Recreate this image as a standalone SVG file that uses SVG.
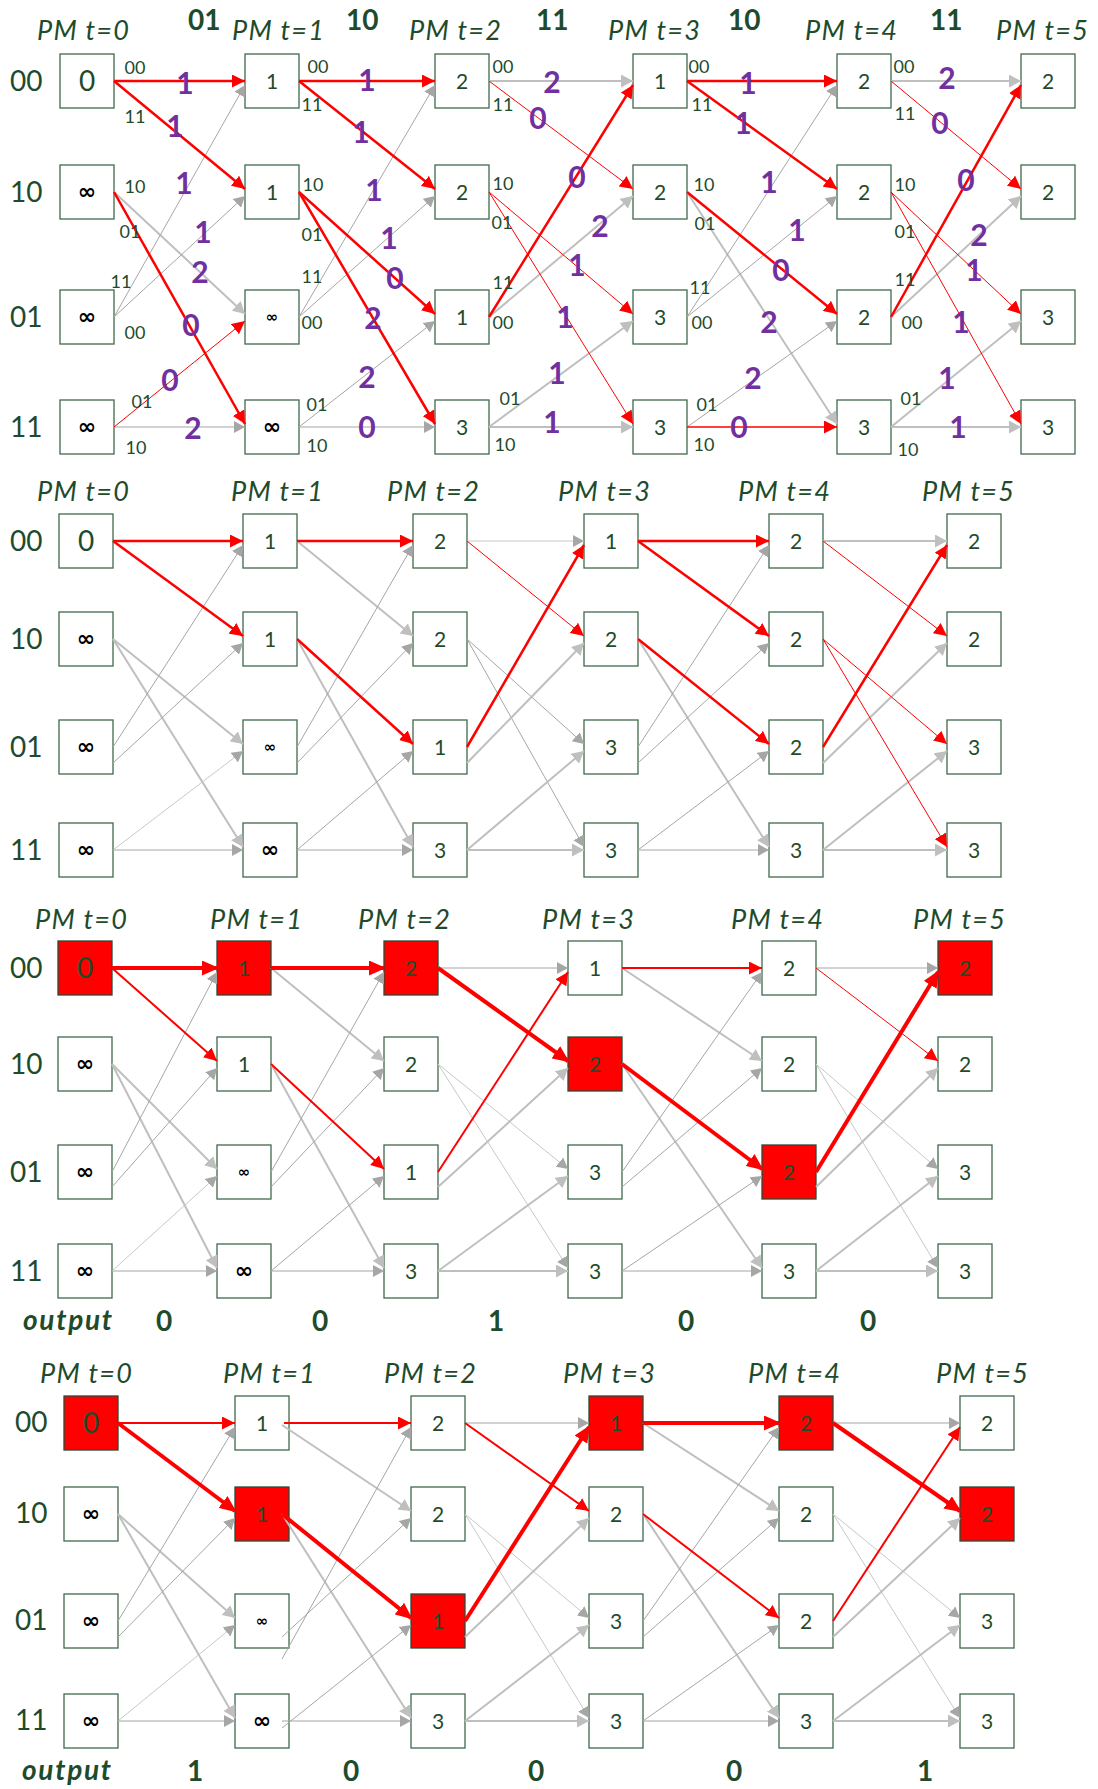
<svg xmlns="http://www.w3.org/2000/svg" width="1098" height="1789" viewBox="0 0 1098 1789">
<style>
  .box{fill:#ffffff;stroke:#3f6a4c;stroke-width:1.3}
  .hit{fill:#ff0000;stroke:#2b4a33;stroke-width:1.3}
  text{font-family:Lato,"Liberation Sans","DejaVu Sans",sans-serif;fill:#1e4b2b}
  .pm{font-style:italic;font-size:27px}
  .hd{font-weight:bold;font-size:28px}
  .st{font-size:28px}
  .v{font-size:21px;text-anchor:middle}
  .v0{font-size:28px;text-anchor:middle}
  .inf{font-family:"DejaVu Sans",sans-serif;font-weight:bold;font-size:22px;fill:#000;text-anchor:middle}
  .infs{font-family:"DejaVu Sans",sans-serif;font-weight:bold;font-size:15px;fill:#000;text-anchor:middle}
  .lb{font-size:18px;text-anchor:middle}
  .pu{font-weight:bold;font-size:30px;fill:#7030a0;text-anchor:middle}
  .out{font-weight:bold;font-style:italic;font-size:28px}
  .od{font-weight:bold;font-size:28px;text-anchor:middle}
  line{fill:none}
  .g1{stroke:#a6a6a6;stroke-width:1;marker-end:url(#mg)}
  .g2{stroke:#bfbfbf;stroke-width:2;marker-end:url(#ml)}
  .r1{stroke:#ff0000;stroke-width:1;marker-end:url(#mr)}
  .r2{stroke:#ff0000;stroke-width:2;marker-end:url(#mr)}
  .r3{stroke:#ff0000;stroke-width:2.5;marker-end:url(#mr)}
  .rb{stroke:#ff0000;stroke-width:4;marker-end:url(#mb)}
</style>
<defs>
  <marker id="mr" markerUnits="userSpaceOnUse" markerWidth="13" markerHeight="13" viewBox="0 0 13 13" refX="13" refY="6.5" orient="auto"><path d="M0,0 L13,6.5 L0,13 z" fill="#ff0000"/></marker>
  <marker id="mb" markerUnits="userSpaceOnUse" markerWidth="17" markerHeight="15" viewBox="0 0 17 15" refX="15" refY="7.5" orient="auto"><path d="M0,0 L17,7.5 L0,15 z" fill="#ff0000"/></marker>
  <marker id="mg" markerUnits="userSpaceOnUse" markerWidth="11" markerHeight="12" viewBox="0 0 11 12" refX="11" refY="6" orient="auto"><path d="M0,0 L11,6 L0,12 z" fill="#a6a6a6"/></marker>
  <marker id="ml" markerUnits="userSpaceOnUse" markerWidth="12" markerHeight="13" viewBox="0 0 12 13" refX="12" refY="6.5" orient="auto"><path d="M0,0 L12,6.5 L0,13 z" fill="#bfbfbf"/></marker>
</defs>
<rect width="1098" height="1789" fill="#ffffff"/>

<!-- ===== Trellis 1: branch metrics ===== -->
<g id="labels-1">
  <text class="pm" x="37" y="40" textLength="92">PM t=0</text>
  <text class="pm" x="232" y="40" textLength="92">PM t=1</text>
  <text class="pm" x="409" y="40" textLength="92">PM t=2</text>
  <text class="pm" x="608" y="40" textLength="92">PM t=3</text>
  <text class="pm" x="805" y="40" textLength="92">PM t=4</text>
  <text class="pm" x="996" y="40" textLength="92">PM t=5</text>
  <text class="hd" x="188" y="30">01</text>
  <text class="hd" x="346" y="30">10</text>
  <text class="hd" x="536" y="30">11</text>
  <text class="hd" x="728" y="30">10</text>
  <text class="hd" x="930" y="30">11</text>
  <text class="st" x="10" y="91">00</text>
  <text class="st" x="10" y="202">10</text>
  <text class="st" x="10" y="327">01</text>
  <text class="st" x="10" y="437">11</text>
</g>
<g id="nodes-1">
  <g id="a-t0-00"><rect class="box" x="60" y="54" width="54" height="54"/><text class="v0" x="87" y="91">0</text></g>
  <g id="a-t0-10"><rect class="box" x="60" y="165" width="54" height="54"/><text class="inf" x="87" y="199">∞</text></g>
  <g id="a-t0-01"><rect class="box" x="60" y="290" width="54" height="54"/><text class="inf" x="87" y="324">∞</text></g>
  <g id="a-t0-11"><rect class="box" x="60" y="400" width="54" height="54"/><text class="inf" x="87" y="434">∞</text></g>
  <g id="a-t1-00"><rect class="box" x="245" y="54" width="54" height="54"/><text class="v" x="272" y="88.5">1</text></g>
  <g id="a-t1-10"><rect class="box" x="245" y="165" width="54" height="54"/><text class="v" x="272" y="199.5">1</text></g>
  <g id="a-t1-01"><rect class="box" x="245" y="290" width="54" height="54"/><text class="infs" x="272" y="322">∞</text></g>
  <g id="a-t1-11"><rect class="box" x="245" y="400" width="54" height="54"/><text class="inf" x="272" y="434">∞</text></g>
  <g id="a-t2-00"><rect class="box" x="435" y="54" width="54" height="54"/><text class="v" x="462" y="88.5">2</text></g>
  <g id="a-t2-10"><rect class="box" x="435" y="165" width="54" height="54"/><text class="v" x="462" y="199.5">2</text></g>
  <g id="a-t2-01"><rect class="box" x="435" y="290" width="54" height="54"/><text class="v" x="462" y="324.5">1</text></g>
  <g id="a-t2-11"><rect class="box" x="435" y="400" width="54" height="54"/><text class="v" x="462" y="434.5">3</text></g>
  <g id="a-t3-00"><rect class="box" x="633" y="54" width="54" height="54"/><text class="v" x="660" y="88.5">1</text></g>
  <g id="a-t3-10"><rect class="box" x="633" y="165" width="54" height="54"/><text class="v" x="660" y="199.5">2</text></g>
  <g id="a-t3-01"><rect class="box" x="633" y="290" width="54" height="54"/><text class="v" x="660" y="324.5">3</text></g>
  <g id="a-t3-11"><rect class="box" x="633" y="400" width="54" height="54"/><text class="v" x="660" y="434.5">3</text></g>
  <g id="a-t4-00"><rect class="box" x="837" y="54" width="54" height="54"/><text class="v" x="864" y="88.5">2</text></g>
  <g id="a-t4-10"><rect class="box" x="837" y="165" width="54" height="54"/><text class="v" x="864" y="199.5">2</text></g>
  <g id="a-t4-01"><rect class="box" x="837" y="290" width="54" height="54"/><text class="v" x="864" y="324.5">2</text></g>
  <g id="a-t4-11"><rect class="box" x="837" y="400" width="54" height="54"/><text class="v" x="864" y="434.5">3</text></g>
  <g id="a-t5-00"><rect class="box" x="1021" y="54" width="54" height="54"/><text class="v" x="1048" y="88.5">2</text></g>
  <g id="a-t5-10"><rect class="box" x="1021" y="165" width="54" height="54"/><text class="v" x="1048" y="199.5">2</text></g>
  <g id="a-t5-01"><rect class="box" x="1021" y="290" width="54" height="54"/><text class="v" x="1048" y="324.5">3</text></g>
  <g id="a-t5-11"><rect class="box" x="1021" y="400" width="54" height="54"/><text class="v" x="1048" y="434.5">3</text></g>
</g>
<g id="connectors-1">
  <line class="g2" x1="114" y1="192" x2="245" y2="314"/>
  <line class="g1" x1="114" y1="317" x2="245" y2="85"/>
  <line class="g1" x1="114" y1="317" x2="245" y2="196"/>
  <line class="g1" x1="114" y1="427" x2="245" y2="427"/>
  <line class="g1" x1="299" y1="317" x2="435" y2="85"/>
  <line class="g1" x1="299" y1="317" x2="435" y2="196"/>
  <line class="g1" x1="299" y1="427" x2="435" y2="321"/>
  <line class="g1" x1="299" y1="427" x2="435" y2="427"/>
  <line class="g2" x1="489" y1="81" x2="633" y2="81"/>
  <line class="g2" x1="489" y1="317" x2="633" y2="196"/>
  <line class="g2" x1="489" y1="427" x2="633" y2="321"/>
  <line class="g2" x1="489" y1="427" x2="633" y2="427"/>
  <line class="g2" x1="687" y1="192" x2="837" y2="424"/>
  <line class="g1" x1="687" y1="317" x2="837" y2="85"/>
  <line class="g1" x1="687" y1="317" x2="837" y2="196"/>
  <line class="g1" x1="687" y1="427" x2="837" y2="321"/>
  <line class="g2" x1="891" y1="81" x2="1021" y2="81"/>
  <line class="g2" x1="891" y1="317" x2="1021" y2="196"/>
  <line class="g2" x1="891" y1="427" x2="1021" y2="321"/>
  <line class="g2" x1="891" y1="427" x2="1021" y2="427"/>
  <line class="r3" x1="114" y1="81" x2="245" y2="81"/>
  <line class="r3" x1="114" y1="81" x2="245" y2="189"/>
  <line class="r3" x1="114" y1="192" x2="245" y2="424"/>
  <line class="r1" x1="114" y1="427" x2="245" y2="321"/>
  <line class="r3" x1="299" y1="81" x2="435" y2="81"/>
  <line class="r3" x1="299" y1="81" x2="435" y2="189"/>
  <line class="r3" x1="299" y1="192" x2="435" y2="314"/>
  <line class="r3" x1="299" y1="192" x2="435" y2="424"/>
  <line class="r1" x1="489" y1="81" x2="633" y2="189"/>
  <line class="r1" x1="489" y1="192" x2="633" y2="314"/>
  <line class="r1" x1="489" y1="192" x2="633" y2="424"/>
  <line class="r3" x1="489" y1="317" x2="633" y2="85"/>
  <line class="r3" x1="687" y1="81" x2="837" y2="81"/>
  <line class="r3" x1="687" y1="81" x2="837" y2="189"/>
  <line class="r3" x1="687" y1="192" x2="837" y2="314"/>
  <line class="r1" x1="687" y1="427" x2="837" y2="427" style="stroke-width:1.5"/>
  <line class="r1" x1="891" y1="81" x2="1021" y2="189"/>
  <line class="r1" x1="891" y1="192" x2="1021" y2="314"/>
  <line class="r1" x1="891" y1="192" x2="1021" y2="424"/>
  <line class="r3" x1="891" y1="317" x2="1021" y2="85"/>
</g>
<g id="branch-outputs-1">
  <text class="lb" x="135" y="74">00</text><text class="lb" x="135" y="123">11</text>
  <text class="lb" x="135" y="193">10</text><text class="lb" x="130" y="238">01</text>
  <text class="lb" x="121" y="288">11</text><text class="lb" x="135" y="339">00</text>
  <text class="lb" x="142" y="408">01</text><text class="lb" x="136" y="454">10</text>
  <text class="lb" x="318" y="73">00</text><text class="lb" x="312" y="111">11</text>
  <text class="lb" x="313" y="191">10</text><text class="lb" x="312" y="241">01</text>
  <text class="lb" x="312" y="283">11</text><text class="lb" x="312" y="329">00</text>
  <text class="lb" x="317" y="411">01</text><text class="lb" x="317" y="452">10</text>
  <text class="lb" x="503" y="73">00</text><text class="lb" x="503" y="111">11</text>
  <text class="lb" x="503" y="190">10</text><text class="lb" x="502" y="229">01</text>
  <text class="lb" x="503" y="289">11</text><text class="lb" x="503" y="329">00</text>
  <text class="lb" x="510" y="405">01</text><text class="lb" x="505" y="451">10</text>
  <text class="lb" x="699" y="73">00</text><text class="lb" x="702" y="111">11</text>
  <text class="lb" x="704" y="191">10</text><text class="lb" x="705" y="230">01</text>
  <text class="lb" x="700" y="294">11</text><text class="lb" x="702" y="329">00</text>
  <text class="lb" x="707" y="411">01</text><text class="lb" x="704" y="451">10</text>
  <text class="lb" x="904" y="73">00</text><text class="lb" x="905" y="120">11</text>
  <text class="lb" x="905" y="191">10</text><text class="lb" x="905" y="238">01</text>
  <text class="lb" x="905" y="286">11</text><text class="lb" x="912" y="329">00</text>
  <text class="lb" x="911" y="405">01</text><text class="lb" x="908" y="456">10</text>
</g>
<g id="branch-metrics-1">
  <text class="pu" x="185" y="93.5">1</text><text class="pu" x="175" y="136.5">1</text>
  <text class="pu" x="184" y="193.5">1</text><text class="pu" x="203" y="242.5">1</text>
  <text class="pu" x="200" y="282.5">2</text><text class="pu" x="191" y="335.5">0</text>
  <text class="pu" x="170" y="390.5">0</text><text class="pu" x="193" y="438.5">2</text>
  <text class="pu" x="367" y="90.5">1</text><text class="pu" x="361" y="142.5">1</text>
  <text class="pu" x="374" y="200.5">1</text><text class="pu" x="389" y="248.5">1</text>
  <text class="pu" x="395" y="288.5">0</text><text class="pu" x="373" y="328.5">2</text>
  <text class="pu" x="367" y="387.5">2</text><text class="pu" x="367" y="437.5">0</text>
  <text class="pu" x="552" y="92.5">2</text><text class="pu" x="538" y="128.5">0</text>
  <text class="pu" x="577" y="187.5">0</text><text class="pu" x="600" y="236.5">2</text>
  <text class="pu" x="577" y="275.5">1</text><text class="pu" x="565" y="327.5">1</text>
  <text class="pu" x="557" y="383.5">1</text><text class="pu" x="552" y="432.5">1</text>
  <text class="pu" x="748" y="93.5">1</text><text class="pu" x="743" y="133.5">1</text>
  <text class="pu" x="769" y="192.5">1</text><text class="pu" x="797" y="240.5">1</text>
  <text class="pu" x="781" y="280.5">0</text><text class="pu" x="769" y="332.5">2</text>
  <text class="pu" x="753" y="388.5">2</text><text class="pu" x="739" y="437.5">0</text>
  <text class="pu" x="947" y="88.5">2</text><text class="pu" x="940" y="133.5">0</text>
  <text class="pu" x="966" y="190.5">0</text><text class="pu" x="979" y="245.5">2</text>
  <text class="pu" x="974" y="280.5">1</text><text class="pu" x="961" y="332.5">1</text>
  <text class="pu" x="947" y="388.5">1</text><text class="pu" x="958" y="437.5">1</text>
</g>

<!-- ===== Trellis 2: survivors ===== -->
<g id="labels-2">
  <text class="pm" x="37" y="501" textLength="92">PM t=0</text>
  <text class="pm" x="231" y="501" textLength="92">PM t=1</text>
  <text class="pm" x="387" y="501" textLength="92">PM t=2</text>
  <text class="pm" x="558" y="501" textLength="92">PM t=3</text>
  <text class="pm" x="738" y="501" textLength="92">PM t=4</text>
  <text class="pm" x="922" y="501" textLength="92">PM t=5</text>
  <text class="st" x="10" y="551">00</text>
  <text class="st" x="10" y="649">10</text>
  <text class="st" x="10" y="757">01</text>
  <text class="st" x="10" y="860">11</text>
</g>
<g id="nodes-2">
  <g id="b-t0-00"><rect class="box" x="59" y="514" width="54" height="54"/><text class="v0" x="86" y="551">0</text></g>
  <g id="b-t0-10"><rect class="box" x="59" y="612" width="54" height="54"/><text class="inf" x="86" y="646">∞</text></g>
  <g id="b-t0-01"><rect class="box" x="59" y="720" width="54" height="54"/><text class="inf" x="86" y="754">∞</text></g>
  <g id="b-t0-11"><rect class="box" x="59" y="823" width="54" height="54"/><text class="inf" x="86" y="857">∞</text></g>
  <g id="b-t1-00"><rect class="box" x="243" y="514" width="54" height="54"/><text class="v" x="270" y="548.5">1</text></g>
  <g id="b-t1-10"><rect class="box" x="243" y="612" width="54" height="54"/><text class="v" x="270" y="646.5">1</text></g>
  <g id="b-t1-01"><rect class="box" x="243" y="720" width="54" height="54"/><text class="infs" x="270" y="752">∞</text></g>
  <g id="b-t1-11"><rect class="box" x="243" y="823" width="54" height="54"/><text class="inf" x="270" y="857">∞</text></g>
  <g id="b-t2-00"><rect class="box" x="413" y="514" width="54" height="54"/><text class="v" x="440" y="548.5">2</text></g>
  <g id="b-t2-10"><rect class="box" x="413" y="612" width="54" height="54"/><text class="v" x="440" y="646.5">2</text></g>
  <g id="b-t2-01"><rect class="box" x="413" y="720" width="54" height="54"/><text class="v" x="440" y="754.5">1</text></g>
  <g id="b-t2-11"><rect class="box" x="413" y="823" width="54" height="54"/><text class="v" x="440" y="857.5">3</text></g>
  <g id="b-t3-00"><rect class="box" x="584" y="514" width="54" height="54"/><text class="v" x="611" y="548.5">1</text></g>
  <g id="b-t3-10"><rect class="box" x="584" y="612" width="54" height="54"/><text class="v" x="611" y="646.5">2</text></g>
  <g id="b-t3-01"><rect class="box" x="584" y="720" width="54" height="54"/><text class="v" x="611" y="754.5">3</text></g>
  <g id="b-t3-11"><rect class="box" x="584" y="823" width="54" height="54"/><text class="v" x="611" y="857.5">3</text></g>
  <g id="b-t4-00"><rect class="box" x="769" y="514" width="54" height="54"/><text class="v" x="796" y="548.5">2</text></g>
  <g id="b-t4-10"><rect class="box" x="769" y="612" width="54" height="54"/><text class="v" x="796" y="646.5">2</text></g>
  <g id="b-t4-01"><rect class="box" x="769" y="720" width="54" height="54"/><text class="v" x="796" y="754.5">2</text></g>
  <g id="b-t4-11"><rect class="box" x="769" y="823" width="54" height="54"/><text class="v" x="796" y="857.5">3</text></g>
  <g id="b-t5-00"><rect class="box" x="947" y="514" width="54" height="54"/><text class="v" x="974" y="548.5">2</text></g>
  <g id="b-t5-10"><rect class="box" x="947" y="612" width="54" height="54"/><text class="v" x="974" y="646.5">2</text></g>
  <g id="b-t5-01"><rect class="box" x="947" y="720" width="54" height="54"/><text class="v" x="974" y="754.5">3</text></g>
  <g id="b-t5-11"><rect class="box" x="947" y="823" width="54" height="54"/><text class="v" x="974" y="857.5">3</text></g>
</g>
<g id="connectors-2">
  <line class="g2" x1="113" y1="639" x2="243" y2="744"/>
  <line class="g2" x1="113" y1="639" x2="243" y2="847"/>
  <line class="g1" x1="113" y1="747" x2="243" y2="545"/>
  <line class="g1" x1="113" y1="763" x2="243" y2="643"/>
  <line class="g1" x1="113" y1="850" x2="243" y2="751" style="stroke:#c8c8c8"/>
  <line class="g1" x1="113" y1="850" x2="243" y2="850"/>
  <line class="g2" x1="297" y1="541" x2="413" y2="636"/>
  <line class="g2" x1="297" y1="639" x2="413" y2="847"/>
  <line class="g1" x1="297" y1="747" x2="413" y2="545"/>
  <line class="g1" x1="297" y1="763" x2="413" y2="643"/>
  <line class="g1" x1="297" y1="850" x2="413" y2="751"/>
  <line class="g1" x1="297" y1="850" x2="413" y2="850"/>
  <line class="g1" x1="467" y1="541" x2="584" y2="541" style="stroke:#c8c8c8"/>
  <line class="g1" x1="467" y1="639" x2="584" y2="744"/>
  <line class="g1" x1="467" y1="639" x2="584" y2="847"/>
  <line class="g2" x1="467" y1="763" x2="584" y2="643"/>
  <line class="g2" x1="467" y1="850" x2="584" y2="751"/>
  <line class="g2" x1="467" y1="850" x2="584" y2="850"/>
  <line class="g2" x1="638" y1="639" x2="769" y2="847"/>
  <line class="g1" x1="638" y1="747" x2="769" y2="545"/>
  <line class="g1" x1="638" y1="763" x2="769" y2="643"/>
  <line class="g1" x1="638" y1="850" x2="769" y2="751"/>
  <line class="g1" x1="638" y1="850" x2="769" y2="850"/>
  <line class="g2" x1="823" y1="541" x2="947" y2="541"/>
  <line class="g2" x1="823" y1="763" x2="947" y2="643"/>
  <line class="g2" x1="823" y1="850" x2="947" y2="751"/>
  <line class="g2" x1="823" y1="850" x2="947" y2="850"/>
  <line class="r3" x1="113" y1="541" x2="243" y2="541"/>
  <line class="r3" x1="113" y1="541" x2="243" y2="636"/>
  <line class="r3" x1="297" y1="541" x2="413" y2="541"/>
  <line class="r3" x1="297" y1="639" x2="413" y2="744"/>
  <line class="r1" x1="467" y1="541" x2="584" y2="636"/>
  <line class="r3" x1="467" y1="747" x2="584" y2="545"/>
  <line class="r3" x1="638" y1="541" x2="769" y2="541"/>
  <line class="r3" x1="638" y1="541" x2="769" y2="636"/>
  <line class="r3" x1="638" y1="639" x2="769" y2="744"/>
  <line class="r1" x1="823" y1="541" x2="947" y2="636"/>
  <line class="r1" x1="823" y1="639" x2="947" y2="744"/>
  <line class="r1" x1="823" y1="639" x2="947" y2="847"/>
  <line class="r3" x1="823" y1="747" x2="947" y2="545"/>
</g>

<!-- ===== Trellis 3: traceback, decoded 0 0 1 0 0 ===== -->
<g id="labels-3">
  <text class="pm" x="35" y="929" textLength="92">PM t=0</text>
  <text class="pm" x="210" y="929" textLength="92">PM t=1</text>
  <text class="pm" x="358" y="929" textLength="92">PM t=2</text>
  <text class="pm" x="542" y="929" textLength="92">PM t=3</text>
  <text class="pm" x="731" y="929" textLength="92">PM t=4</text>
  <text class="pm" x="913" y="929" textLength="92">PM t=5</text>
  <text class="st" x="10" y="978">00</text>
  <text class="st" x="10" y="1074">10</text>
  <text class="st" x="10" y="1182">01</text>
  <text class="st" x="10" y="1281">11</text>
  <text class="out" x="23" y="1330" textLength="89">output</text>
  <text class="od" x="164" y="1331">0</text>
  <text class="od" x="320" y="1331">0</text>
  <text class="od" x="496" y="1331">1</text>
  <text class="od" x="686" y="1331">0</text>
  <text class="od" x="868" y="1331">0</text>
</g>
<g id="nodes-3">
  <g id="c-t0-00"><rect class="hit" x="58" y="941" width="54" height="54"/><text class="v0" x="85" y="978">0</text></g>
  <g id="c-t0-10"><rect class="box" x="58" y="1037" width="54" height="54"/><text class="inf" x="85" y="1071">∞</text></g>
  <g id="c-t0-01"><rect class="box" x="58" y="1145" width="54" height="54"/><text class="inf" x="85" y="1179">∞</text></g>
  <g id="c-t0-11"><rect class="box" x="58" y="1244" width="54" height="54"/><text class="inf" x="85" y="1278">∞</text></g>
  <g id="c-t1-00"><rect class="hit" x="217" y="941" width="54" height="54"/><text class="v" x="244" y="975.5">1</text></g>
  <g id="c-t1-10"><rect class="box" x="217" y="1037" width="54" height="54"/><text class="v" x="244" y="1071.5">1</text></g>
  <g id="c-t1-01"><rect class="box" x="217" y="1145" width="54" height="54"/><text class="infs" x="244" y="1177">∞</text></g>
  <g id="c-t1-11"><rect class="box" x="217" y="1244" width="54" height="54"/><text class="inf" x="244" y="1278">∞</text></g>
  <g id="c-t2-00"><rect class="hit" x="384" y="941" width="54" height="54"/><text class="v" x="411" y="975.5">2</text></g>
  <g id="c-t2-10"><rect class="box" x="384" y="1037" width="54" height="54"/><text class="v" x="411" y="1071.5">2</text></g>
  <g id="c-t2-01"><rect class="box" x="384" y="1145" width="54" height="54"/><text class="v" x="411" y="1179.5">1</text></g>
  <g id="c-t2-11"><rect class="box" x="384" y="1244" width="54" height="54"/><text class="v" x="411" y="1278.5">3</text></g>
  <g id="c-t3-00"><rect class="box" x="568" y="941" width="54" height="54"/><text class="v" x="595" y="975.5">1</text></g>
  <g id="c-t3-10"><rect class="hit" x="568" y="1037" width="54" height="54"/><text class="v" x="595" y="1071.5">2</text></g>
  <g id="c-t3-01"><rect class="box" x="568" y="1145" width="54" height="54"/><text class="v" x="595" y="1179.5">3</text></g>
  <g id="c-t3-11"><rect class="box" x="568" y="1244" width="54" height="54"/><text class="v" x="595" y="1278.5">3</text></g>
  <g id="c-t4-00"><rect class="box" x="762" y="941" width="54" height="54"/><text class="v" x="789" y="975.5">2</text></g>
  <g id="c-t4-10"><rect class="box" x="762" y="1037" width="54" height="54"/><text class="v" x="789" y="1071.5">2</text></g>
  <g id="c-t4-01"><rect class="hit" x="762" y="1145" width="54" height="54"/><text class="v" x="789" y="1179.5">2</text></g>
  <g id="c-t4-11"><rect class="box" x="762" y="1244" width="54" height="54"/><text class="v" x="789" y="1278.5">3</text></g>
  <g id="c-t5-00"><rect class="hit" x="938" y="941" width="54" height="54"/><text class="v" x="965" y="975.5">2</text></g>
  <g id="c-t5-10"><rect class="box" x="938" y="1037" width="54" height="54"/><text class="v" x="965" y="1071.5">2</text></g>
  <g id="c-t5-01"><rect class="box" x="938" y="1145" width="54" height="54"/><text class="v" x="965" y="1179.5">3</text></g>
  <g id="c-t5-11"><rect class="box" x="938" y="1244" width="54" height="54"/><text class="v" x="965" y="1278.5">3</text></g>
</g>
<g id="connectors-3">
  <line class="g2" x1="112" y1="1064" x2="217" y2="1169"/>
  <line class="g2" x1="112" y1="1064" x2="217" y2="1268"/>
  <line class="g1" x1="112" y1="1172" x2="217" y2="972"/>
  <line class="g1" x1="112" y1="1187" x2="217" y2="1068"/>
  <line class="g1" x1="112" y1="1271" x2="217" y2="1176" style="stroke:#c8c8c8"/>
  <line class="g1" x1="112" y1="1271" x2="217" y2="1271"/>
  <line class="g2" x1="271" y1="968" x2="384" y2="1061"/>
  <line class="g2" x1="271" y1="1064" x2="384" y2="1268"/>
  <line class="g1" x1="271" y1="1172" x2="384" y2="972"/>
  <line class="g1" x1="271" y1="1187" x2="384" y2="1068"/>
  <line class="g1" x1="271" y1="1271" x2="384" y2="1176"/>
  <line class="g1" x1="271" y1="1271" x2="384" y2="1271"/>
  <line class="g1" x1="438" y1="968" x2="568" y2="968"/>
  <line class="g1" x1="438" y1="1064" x2="568" y2="1169" style="stroke:#c8c8c8"/>
  <line class="g1" x1="438" y1="1064" x2="568" y2="1268" style="stroke:#c8c8c8"/>
  <line class="g2" x1="438" y1="1187" x2="568" y2="1068"/>
  <line class="g2" x1="438" y1="1271" x2="568" y2="1176"/>
  <line class="g2" x1="438" y1="1271" x2="568" y2="1271"/>
  <line class="g2" x1="622" y1="968" x2="762" y2="1061"/>
  <line class="g2" x1="622" y1="1064" x2="762" y2="1268"/>
  <line class="g1" x1="622" y1="1172" x2="762" y2="972"/>
  <line class="g1" x1="622" y1="1187" x2="762" y2="1068"/>
  <line class="g1" x1="622" y1="1271" x2="762" y2="1176"/>
  <line class="g1" x1="622" y1="1271" x2="762" y2="1271"/>
  <line class="g1" x1="816" y1="968" x2="938" y2="968"/>
  <line class="g1" x1="816" y1="1064" x2="938" y2="1169" style="stroke:#c8c8c8"/>
  <line class="g1" x1="816" y1="1064" x2="938" y2="1268" style="stroke:#c8c8c8"/>
  <line class="g2" x1="816" y1="1187" x2="938" y2="1068"/>
  <line class="g2" x1="816" y1="1271" x2="938" y2="1176"/>
  <line class="g2" x1="816" y1="1271" x2="938" y2="1271"/>
  <line class="rb" x1="112" y1="968" x2="217" y2="968"/>
  <line class="r2" x1="112" y1="968" x2="217" y2="1061"/>
  <line class="rb" x1="271" y1="968" x2="384" y2="968"/>
  <line class="r2" x1="271" y1="1064" x2="384" y2="1169"/>
  <line class="rb" x1="438" y1="968" x2="568" y2="1061"/>
  <line class="r2" x1="438" y1="1172" x2="568" y2="972"/>
  <line class="r2" x1="622" y1="968" x2="762" y2="968"/>
  <line class="rb" x1="622" y1="1064" x2="762" y2="1169"/>
  <line class="r1" x1="816" y1="968" x2="938" y2="1061"/>
  <line class="rb" x1="816" y1="1172" x2="938" y2="972"/>
</g>

<!-- ===== Trellis 4: traceback, decoded 1 0 0 0 1 ===== -->
<g id="labels-4">
  <text class="pm" x="40" y="1383" textLength="92">PM t=0</text>
  <text class="pm" x="223" y="1383" textLength="92">PM t=1</text>
  <text class="pm" x="384" y="1383" textLength="92">PM t=2</text>
  <text class="pm" x="563" y="1383" textLength="92">PM t=3</text>
  <text class="pm" x="748" y="1383" textLength="92">PM t=4</text>
  <text class="pm" x="936" y="1383" textLength="92">PM t=5</text>
  <text class="st" x="15" y="1432">00</text>
  <text class="st" x="15" y="1523">10</text>
  <text class="st" x="15" y="1630">01</text>
  <text class="st" x="15" y="1730">11</text>
  <text class="out" x="22" y="1780" textLength="89">output</text>
  <text class="od" x="195" y="1781">1</text>
  <text class="od" x="351" y="1781">0</text>
  <text class="od" x="536" y="1781">0</text>
  <text class="od" x="734" y="1781">0</text>
  <text class="od" x="925" y="1781">1</text>
</g>
<g id="nodes-4">
  <g id="d-t0-00"><rect class="hit" x="64" y="1396" width="54" height="54"/><text class="v0" x="91" y="1433">0</text></g>
  <g id="d-t0-10"><rect class="box" x="64" y="1487" width="54" height="54"/><text class="inf" x="91" y="1521">∞</text></g>
  <g id="d-t0-01"><rect class="box" x="64" y="1594" width="54" height="54"/><text class="inf" x="91" y="1628">∞</text></g>
  <g id="d-t0-11"><rect class="box" x="64" y="1694" width="54" height="54"/><text class="inf" x="91" y="1728">∞</text></g>
  <g id="d-t1-00"><rect class="box" x="235" y="1396" width="54" height="54"/><text class="v" x="262" y="1430.5">1</text></g>
  <g id="d-t1-10"><rect class="hit" x="235" y="1487" width="54" height="54"/><text class="v" x="262" y="1521.5">1</text></g>
  <g id="d-t1-01"><rect class="box" x="235" y="1594" width="54" height="54"/><text class="infs" x="262" y="1626">∞</text></g>
  <g id="d-t1-11"><rect class="box" x="235" y="1694" width="54" height="54"/><text class="inf" x="262" y="1728">∞</text></g>
  <g id="d-t2-00"><rect class="box" x="411" y="1396" width="54" height="54"/><text class="v" x="438" y="1430.5">2</text></g>
  <g id="d-t2-10"><rect class="box" x="411" y="1487" width="54" height="54"/><text class="v" x="438" y="1521.5">2</text></g>
  <g id="d-t2-01"><rect class="hit" x="411" y="1594" width="54" height="54"/><text class="v" x="438" y="1628.5">1</text></g>
  <g id="d-t2-11"><rect class="box" x="411" y="1694" width="54" height="54"/><text class="v" x="438" y="1728.5">3</text></g>
  <g id="d-t3-00"><rect class="hit" x="589" y="1396" width="54" height="54"/><text class="v" x="616" y="1430.5">1</text></g>
  <g id="d-t3-10"><rect class="box" x="589" y="1487" width="54" height="54"/><text class="v" x="616" y="1521.5">2</text></g>
  <g id="d-t3-01"><rect class="box" x="589" y="1594" width="54" height="54"/><text class="v" x="616" y="1628.5">3</text></g>
  <g id="d-t3-11"><rect class="box" x="589" y="1694" width="54" height="54"/><text class="v" x="616" y="1728.5">3</text></g>
  <g id="d-t4-00"><rect class="hit" x="779" y="1396" width="54" height="54"/><text class="v" x="806" y="1430.5">2</text></g>
  <g id="d-t4-10"><rect class="box" x="779" y="1487" width="54" height="54"/><text class="v" x="806" y="1521.5">2</text></g>
  <g id="d-t4-01"><rect class="box" x="779" y="1594" width="54" height="54"/><text class="v" x="806" y="1628.5">2</text></g>
  <g id="d-t4-11"><rect class="box" x="779" y="1694" width="54" height="54"/><text class="v" x="806" y="1728.5">3</text></g>
  <g id="d-t5-00"><rect class="box" x="960" y="1396" width="54" height="54"/><text class="v" x="987" y="1430.5">2</text></g>
  <g id="d-t5-10"><rect class="hit" x="960" y="1487" width="54" height="54"/><text class="v" x="987" y="1521.5">2</text></g>
  <g id="d-t5-01"><rect class="box" x="960" y="1594" width="54" height="54"/><text class="v" x="987" y="1628.5">3</text></g>
  <g id="d-t5-11"><rect class="box" x="960" y="1694" width="54" height="54"/><text class="v" x="987" y="1728.5">3</text></g>
</g>
<g id="connectors-4">
  <line class="g2" x1="118" y1="1514" x2="235" y2="1618"/>
  <line class="g2" x1="118" y1="1514" x2="235" y2="1718"/>
  <line class="g1" x1="118" y1="1621" x2="235" y2="1427"/>
  <line class="g1" x1="118" y1="1637" x2="235" y2="1518"/>
  <line class="g1" x1="118" y1="1721" x2="235" y2="1625" style="stroke:#c8c8c8"/>
  <line class="g1" x1="118" y1="1721" x2="235" y2="1721"/>
  <line class="g2" x1="282" y1="1425" x2="411" y2="1511"/>
  <line class="g2" x1="282" y1="1514" x2="411" y2="1718"/>
  <line class="g1" x1="282" y1="1659" x2="411" y2="1427"/>
  <line class="g1" x1="282" y1="1637" x2="411" y2="1518"/>
  <line class="g1" x1="282" y1="1728" x2="411" y2="1625"/>
  <line class="g1" x1="282" y1="1721" x2="411" y2="1721"/>
  <line class="g1" x1="465" y1="1423" x2="589" y2="1423"/>
  <line class="g1" x1="465" y1="1514" x2="589" y2="1618" style="stroke:#c8c8c8"/>
  <line class="g1" x1="465" y1="1514" x2="589" y2="1718" style="stroke:#c8c8c8"/>
  <line class="g2" x1="465" y1="1637" x2="589" y2="1518"/>
  <line class="g2" x1="465" y1="1721" x2="589" y2="1625"/>
  <line class="g2" x1="465" y1="1721" x2="589" y2="1721"/>
  <line class="g2" x1="643" y1="1423" x2="779" y2="1511"/>
  <line class="g2" x1="643" y1="1514" x2="779" y2="1718"/>
  <line class="g1" x1="643" y1="1621" x2="779" y2="1427"/>
  <line class="g1" x1="643" y1="1637" x2="779" y2="1518"/>
  <line class="g1" x1="643" y1="1721" x2="779" y2="1625"/>
  <line class="g1" x1="643" y1="1721" x2="779" y2="1721"/>
  <line class="g1" x1="833" y1="1423" x2="960" y2="1423"/>
  <line class="g1" x1="833" y1="1514" x2="960" y2="1618" style="stroke:#c8c8c8"/>
  <line class="g1" x1="833" y1="1514" x2="960" y2="1718" style="stroke:#c8c8c8"/>
  <line class="g2" x1="833" y1="1637" x2="960" y2="1518"/>
  <line class="g2" x1="833" y1="1721" x2="960" y2="1625"/>
  <line class="g2" x1="833" y1="1721" x2="960" y2="1721"/>
  <line class="r2" x1="118" y1="1423" x2="235" y2="1423"/>
  <line class="rb" x1="118" y1="1423" x2="235" y2="1511"/>
  <line class="r2" x1="284" y1="1423" x2="411" y2="1423"/>
  <line class="rb" x1="282" y1="1514" x2="411" y2="1618"/>
  <line class="r2" x1="465" y1="1423" x2="589" y2="1511"/>
  <line class="rb" x1="465" y1="1621" x2="589" y2="1427"/>
  <line class="rb" x1="643" y1="1423" x2="779" y2="1423"/>
  <line class="r2" x1="643" y1="1514" x2="779" y2="1618"/>
  <line class="rb" x1="833" y1="1423" x2="960" y2="1511"/>
  <line class="r2" x1="833" y1="1621" x2="960" y2="1427"/>
</g>
</svg>
